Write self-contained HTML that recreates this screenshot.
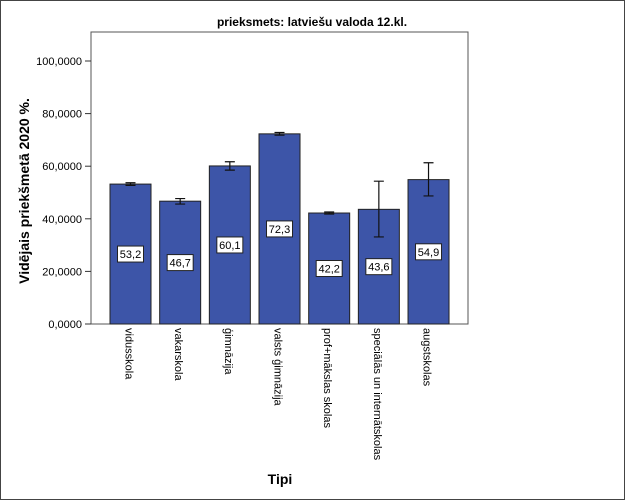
<!DOCTYPE html>
<html><head><meta charset="utf-8"><style>
body{margin:0;background:#fff}
svg{display:block;font-family:"Liberation Sans",sans-serif}
</style></head><body>
<svg width="625" height="500">
<rect x="0.5" y="0.5" width="624" height="499" fill="#fff" stroke="#444"/>
<text x="312" y="26" text-anchor="middle" font-size="12" font-weight="bold">prieksmets: latviešu valoda 12.kl.</text>
<rect x="91" y="32" width="377" height="292" fill="#fff" stroke="#555"/>
<g id="g"></g>
<text transform="translate(29,191) rotate(-90)" text-anchor="middle" font-size="14" font-weight="bold">Vidējais priekšmetā 2020 %.</text>
<text x="280" y="484" text-anchor="middle" font-size="14" font-weight="bold">Tipi</text>
</svg>
<script>
const categories=["vidusskola","vakarskola","ģimnāzija","valsts ģimnāzija","prof+mākslas skolas","speciālās un internātskolas","augstskolas"];
const values=[53.2,46.7,60.1,72.3,42.2,43.6,54.9];
const errLow=[52.7,45.6,58.5,71.8,41.8,33.1,48.7];
const errHigh=[53.7,47.7,61.7,72.8,42.6,54.3,61.3];
const valueLabels=["53,2","46,7","60,1","72,3","42,2","43,6","54,9"];
const yTicks=[0,20,40,60,80,100];
const yTickLabels=["0,0000","20,0000","40,0000","60,0000","80,0000","100,0000"];
const NS="http://www.w3.org/2000/svg";
const g=document.getElementById('g');
const y=v=>324-v*2.63;
const x0=i=>110+i*49.67;
const bw=41;
function mk(t,a){const e=document.createElementNS(NS,t);for(const k in a)e.setAttribute(k,a[k]);g.appendChild(e);return e;}
yTicks.forEach((v,i)=>{
 const l=mk('line',{x1:85,x2:91,y1:y(v),y2:y(v),stroke:'#333'});
 
 
 const t=mk('text',{x:82,y:y(v)+4,'text-anchor':'end','font-size':11});
 t.textContent=yTickLabels[i];
 
 
});
categories.forEach((c,i)=>{
 const xl=x0(i),cx=xl+bw/2;
 const r=mk('rect',{x:xl,y:y(values[i]),width:bw,height:y(0)-y(values[i]),fill:'#3d55a8',stroke:'#222','stroke-width':1});
 
 
 const e=mk('path',{d:`M${cx-5},${y(errHigh[i])}H${cx+5}M${cx},${y(errHigh[i])}V${y(errLow[i])}M${cx-5},${y(errLow[i])}H${cx+5}`,stroke:'#111',fill:'none','stroke-width':1.2});
 
 
 const ly=y(values[i]/2);
 const b=mk('rect',{x:cx-13,y:ly-8,width:26,height:16,fill:'#fff',stroke:'#222'});
 
 
 const t=mk('text',{x:cx,y:ly+4,'text-anchor':'middle','font-size':11});
 t.textContent=valueLabels[i];
 
 
 const k=mk('text',{transform:`translate(${cx-5},328) rotate(90)`,'font-size':11});
 k.textContent=c;
 
 
});
</script>
</body></html>
